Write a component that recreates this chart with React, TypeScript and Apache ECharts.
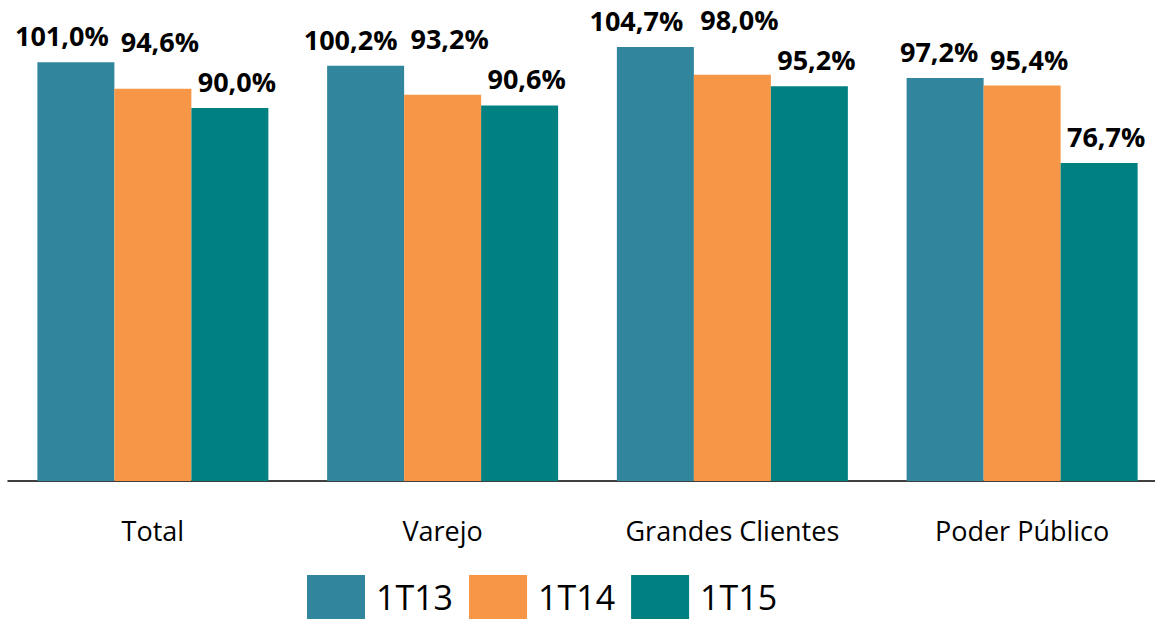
import React, { useEffect, useRef } from "react";
import * as echarts from "echarts";

const categories = ["Total", "Varejo", "Grandes Clientes", "Poder Público"];
const seriesNames = ["1T13", "1T14", "1T15"];
const values1T13 = [101.0, 100.2, 104.7, 97.2];
const values1T14 = [94.6, 93.2, 98.0, 95.4];
const values1T15 = [90.0, 90.6, 95.2, 76.7];
const colors = ["#31859C", "#F79646", "#008080"];

// label nudges (layout only), per series / per category
const labelNudges = [
  [[-14, 0], [-15, 0], [-19, 0], [-6, 0]],
  [[7, -21], [7, -30], [7, -29], [7, 0]],
  [[7, 0], [7, 0], [7, 0], [7, 0]],
];

const FONT = "Open Sans";
const fmt = (v: number) => v.toFixed(1).replace(".", ",") + "%";

export default function App() {
  const ref = useRef<HTMLDivElement>(null);
  useEffect(() => {
    document.body.style.margin = "0";
    if (!ref.current) return;
    const chart = echarts.init(ref.current, null, { renderer: "svg" });
    const all = [values1T13, values1T14, values1T15];
    chart.setOption({
      animation: false,
      backgroundColor: "#ffffff",
      grid: { left: 8, width: 1159, top: 25, height: 456, containLabel: false },
      legend: {
        left: 302,
        top: 570,
        itemWidth: 58,
        itemHeight: 44,
        itemGap: 16,
        icon: "rect",
        textStyle: {
          fontFamily: FONT,
          fontSize: 34,
          padding: [0, 0, 0, 6],
          color: "#000",
        },
        data: seriesNames,
      },
      xAxis: {
        type: "category",
        data: categories,
        axisLine: { lineStyle: { color: "#000", width: 1.5 } },
        axisTick: { show: false },
        axisLabel: { fontFamily: FONT, fontSize: 27, color: "#000", margin: 36 },
      },
      yAxis: {
        type: "value",
        min: 0,
        max: 110,
        show: false,
        splitLine: { show: false },
      },
      series: all.map((vals, si) => ({
        type: "bar",
        name: seriesNames[si],
        barWidth: 77,
        barGap: "0%",
        itemStyle: { color: colors[si] },
        data: vals.map((v, ci) => ({
          value: v,
          label: { offset: labelNudges[si][ci] },
        })),
        label: {
          show: true,
          position: "top",
          distance: 13,
          fontFamily: FONT,
          fontWeight: "bold",
          fontSize: 27,
          color: "#000",
          formatter: (p: any) => fmt(p.value),
        },
      })),
    });
    return () => chart.dispose();
  }, []);
  return (
    <div style={{ width: 1155, height: 619, overflow: "hidden", position: "relative" }}>
      <div ref={ref} style={{ width: 1175, height: 619 }} />
    </div>
  );
}
